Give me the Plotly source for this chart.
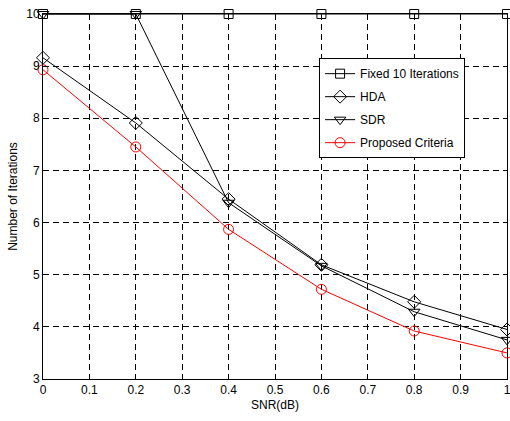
import plotly.graph_objects as go

snr = [0, 0.2, 0.4, 0.6, 0.8, 1.0]
fixed10 = [10, 10, 10, 10, 10, 10]
hda = [9.16, 7.91, 6.45, 5.19, 4.48, 3.95]
sdr = [10, 10, 6.38, 5.17, 4.29, 3.75]
proposed = [8.93, 7.45, 5.87, 4.72, 3.92, 3.50]

x_ticks = [0, 0.1, 0.2, 0.3, 0.4, 0.5, 0.6, 0.7, 0.8, 0.9, 1.0]
x_ticklabels = ["0", "0.1", "0.2", "0.3", "0.4", "0.5", "0.6", "0.7", "0.8", "0.9", "1"]
y_ticks = [3, 4, 5, 6, 7, 8, 9, 10]

names = ["Fixed 10 Iterations", "HDA", "SDR", "Proposed Criteria"]
symbols = ["square-open", "diamond-open", "triangle-down-open", "circle-open"]
colors = ["black", "black", "black", "red"]
series = [fixed10, hda, sdr, proposed]
sizes = [9, 10, 10, 10]

fig = go.Figure()
for i, (nm, ys, sym, col, sz) in enumerate(zip(names, series, symbols, colors, sizes)):
    fig.add_trace(go.Scatter(
        x=snr, y=ys, name=nm, mode="lines+markers", legendgroup=f"g{i}",
        line=dict(color=col, width=1),
        marker=dict(symbol=sym, size=sz, color=col, line=dict(color=col, width=1)),
        cliponaxis=False,
    ))

axis_common = dict(
    showline=True, linecolor="black", linewidth=1, mirror="ticks",
    ticks="inside", ticklen=4, tickcolor="black",
    showgrid=True, gridcolor="black", gridwidth=1, griddash="6px,4px",
    zeroline=False, tickfont=dict(size=12, color="black"),
    ticklabeloverflow="allow", automargin=False,
)

fig.update_xaxes(range=[0, 1], tickvals=x_ticks, ticktext=x_ticklabels,
                 title=dict(text="SNR(dB)", font=dict(size=12, color="black"), standoff=4),
                 **axis_common)
fig.update_yaxes(range=[3, 10], tickvals=y_ticks,
                 title=dict(text="Number of Iterations", font=dict(size=12, color="black"), standoff=6),
                 **axis_common)

fig.update_layout(
    width=510, height=421,
    margin=dict(l=43, r=3, t=14, b=42),
    paper_bgcolor="white", plot_bgcolor="white",
    font=dict(family="Liberation Sans, Arial, sans-serif", size=12, color="black"),
    showlegend=True,
    legend=dict(x=0.595, y=0.879, xanchor="left", yanchor="top",
                bgcolor="white", bordercolor="black", borderwidth=1,
                font=dict(size=12, color="black"), tracegroupgap=4,
                itemwidth=30),
)

fig.write_html("out.html")
